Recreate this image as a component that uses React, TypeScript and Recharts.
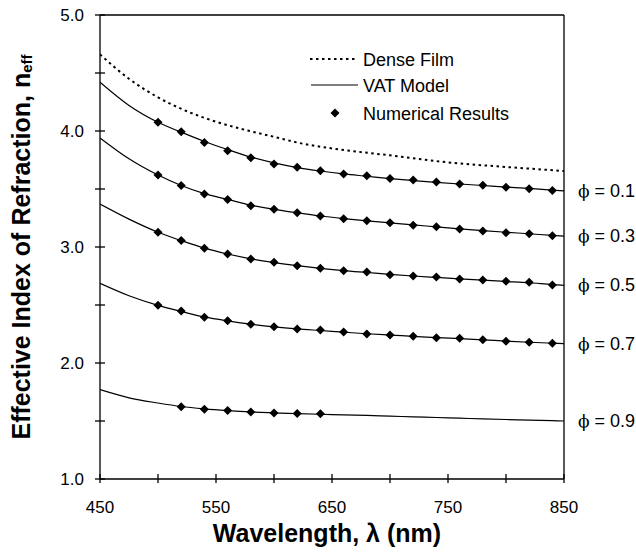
import React from 'react';
import {
  ComposedChart,
  Line,
  Scatter,
  XAxis,
  YAxis,
  ReferenceLine,
  ReferenceDot,
} from 'recharts';

// ---------- data ----------
const curveWavelengths = [450, 475, 500, 520, 540, 560, 580, 600, 620, 640, 660, 680, 700, 720, 740, 760, 780, 800, 820, 840, 850];
const vat01 = [4.42, 4.22, 4.075, 3.99, 3.91, 3.84, 3.775, 3.725, 3.685, 3.655, 3.63, 3.61, 3.59, 3.573, 3.557, 3.543, 3.53, 3.517, 3.505, 3.49, 3.483];
const vat03 = [3.94, 3.76, 3.62, 3.53, 3.46, 3.41, 3.36, 3.325, 3.295, 3.267, 3.245, 3.226, 3.208, 3.19, 3.174, 3.157, 3.141, 3.127, 3.114, 3.1, 3.094];
const vat05 = [3.37, 3.24, 3.127, 3.055, 2.99, 2.94, 2.898, 2.866, 2.839, 2.816, 2.796, 2.78, 2.764, 2.75, 2.738, 2.726, 2.714, 2.703, 2.692, 2.676, 2.67];
const vat07 = [2.687, 2.58, 2.497, 2.445, 2.397, 2.363, 2.335, 2.312, 2.294, 2.28, 2.266, 2.252, 2.241, 2.23, 2.219, 2.21, 2.2, 2.189, 2.179, 2.171, 2.167];
const vat09 = [1.77, 1.70, 1.655, 1.625, 1.605, 1.59, 1.578, 1.57, 1.563, 1.558, 1.553, 1.548, 1.542, 1.536, 1.53, 1.524, 1.518, 1.513, 1.508, 1.503, 1.5];

const denseWavelengths = [450, 475, 500, 525, 550, 575, 600, 625, 650, 700, 750, 800, 850];
const denseFilm = [4.66, 4.45, 4.29, 4.17, 4.08, 4.01, 3.95, 3.89, 3.85, 3.79, 3.73, 3.69, 3.655];

const numWavelengths = [500, 520, 540, 560, 580, 600, 620, 640, 660, 680, 700, 720, 740, 760, 780, 800, 820, 840];
const num01 = [4.075, 3.994, 3.9, 3.83, 3.77, 3.715, 3.687, 3.658, 3.63, 3.615, 3.59, 3.578, 3.56, 3.543, 3.532, 3.515, 3.503, 3.486];
const num03 = [3.62, 3.53, 3.457, 3.41, 3.356, 3.325, 3.296, 3.267, 3.244, 3.227, 3.21, 3.187, 3.175, 3.155, 3.138, 3.123, 3.115, 3.097];
const num05 = [3.127, 3.055, 2.99, 2.94, 2.897, 2.868, 2.839, 2.816, 2.796, 2.784, 2.761, 2.75, 2.741, 2.724, 2.716, 2.704, 2.696, 2.672];
const num07 = [2.497, 2.448, 2.394, 2.365, 2.333, 2.313, 2.293, 2.284, 2.267, 2.25, 2.241, 2.23, 2.218, 2.213, 2.201, 2.187, 2.178, 2.17];
const num09Wavelengths = [520, 540, 560, 580, 600, 620, 640];
const num09 = [1.622, 1.601, 1.59, 1.578, 1.569, 1.565, 1.562];

const phiLabels = ['0.1', '0.3', '0.5', '0.7', '0.9'];
const xTicks = [450, 500, 550, 600, 650, 700, 750, 800, 850];
const xLabelTicks = [450, 550, 650, 750, 850];
const yTicks = [1, 1.5, 2, 2.5, 3, 3.5, 4, 4.5, 5];

const legendLabels = ['Dense Film', 'VAT Model', 'Numerical Results'];

// ---------- build ----------
const toRows = (xs: number[], ys: number[]) => xs.map((x, i) => ({ x, y: ys[i] }));
const vatSeries = [vat01, vat03, vat05, vat07, vat09].map((ys) => toRows(curveWavelengths, ys));
const denseRows = toRows(denseWavelengths, denseFilm);
const numRows = [
  ...toRows(numWavelengths, num01),
  ...toRows(numWavelengths, num03),
  ...toRows(numWavelengths, num05),
  ...toRows(numWavelengths, num07),
  ...toRows(num09Wavelengths, num09),
];

const FONT = '"Liberation Sans", Arial, Helvetica, sans-serif';
const W = 636;
const H = 552;

const Diamond = (props: any) => {
  const { cx, cy } = props;
  if (cx == null || cy == null) return null;
  const r = 4.5;
  return <path d={`M${cx},${cy - r}L${cx + r},${cy}L${cx},${cy + r}L${cx - r},${cy}Z`} fill="#000" />;
};

const YTick = (props: any) => {
  const { x, y, payload } = props;
  const major = Math.abs(payload.value % 1) < 1e-9;
  return (
    <g>
      <line x1={x - 5} x2={x + 5} y1={y} y2={y} stroke="#000" strokeWidth={1.3} />
      {major && (
        <text x={x - 16} y={y} dy={6} textAnchor="end" fontSize={17} fontFamily={FONT} fill="#000">
          {payload.value.toFixed(1)}
        </text>
      )}
    </g>
  );
};

const XTick = (props: any) => {
  const { x, y, payload } = props;
  const show = xLabelTicks.includes(payload.value);
  return (
    <g>
      <line x1={x} x2={x} y1={y - 5} y2={y + 4} stroke="#000" strokeWidth={1.3} />
      {show && (
        <text x={x} y={y} dy={34} textAnchor="middle" fontSize={17} fontFamily={FONT} fill="#000">
          {payload.value}
        </text>
      )}
    </g>
  );
};

const YTitle = (props: any) => {
  const vb = props.viewBox || { x: 0, y: 15, width: 100, height: 464 };
  const cx = vb.x + 30;
  const cy = vb.y + vb.height / 2;
  return (
    <text
      x={cx}
      y={cy}
      transform={`rotate(-90, ${cx}, ${cy})`}
      textAnchor="middle"
      fontSize={25}
      fontWeight="bold"
      fontFamily={FONT}
      fill="#000"
    >
      Effective Index of Refraction, n
      <tspan fontSize={15} dy={2}>eff</tspan>
    </text>
  );
};

const XTitle = (props: any) => {
  const vb = props.viewBox || { x: 100, y: 479, width: 464, height: 73 };
  return (
    <text
      x={vb.x + vb.width / 2 - 5}
      y={vb.y + 63}
      textAnchor="middle"
      fontSize={25}
      fontWeight="bold"
      fontFamily={FONT}
      fill="#000"
    >
      Wavelength, λ (nm)
    </text>
  );
};

const PhiLabel = (text: string) => (props: any) => {
  const vb = props.viewBox || {};
  const x = (vb.x ?? 0) + 14;
  const y = (vb.y ?? 0) + (vb.height ?? 0) / 2;
  return (
    <text x={x} y={y} dy={6} fontSize={18} fontFamily={FONT} fill="#000">
      <tspan fontFamily='"DejaVu Serif", serif' fontSize={17}>ϕ</tspan> = {text}
    </text>
  );
};

const LegendOverlay = () => (
  <svg
    width={260}
    height={100}
    style={{ position: 'absolute', left: 300, top: 40 }}
  >
    <line x1={10} x2={57} y1={19} y2={19} stroke="#000" strokeWidth={2} strokeDasharray="2.5 3.5" />
    <text x={63} y={25.5} fontSize={18} fontFamily={FONT} fill="#000">{legendLabels[0]}</text>
    <line x1={11} x2={58} y1={45} y2={45} stroke="#000" strokeWidth={1.2} />
    <text x={63} y={51.5} fontSize={18} fontFamily={FONT} fill="#000">{legendLabels[1]}</text>
    <path d="M35,68.5L39.5,73L35,77.5L30.5,73Z" fill="#000" />
    <text x={63} y={79.5} fontSize={18} fontFamily={FONT} fill="#000">{legendLabels[2]}</text>
  </svg>
);

export default function App() {
  const ends = [vat01, vat03, vat05, vat07, vat09].map((ys) => ys[ys.length - 1]);
  return (
    <div style={{ position: 'absolute', left: 0, top: 0, width: W, height: H, background: '#fff' }}>
      <ComposedChart width={W} height={H} margin={{ top: 15, right: 72, left: 0, bottom: 0 }}>
        <XAxis
          type="number"
          dataKey="x"
          domain={[450, 850]}
          ticks={xTicks}
          allowDataOverflow
          height={73}
          tickSize={0}
          tickMargin={0}
          tick={<XTick />}
          axisLine={{ stroke: '#000', strokeWidth: 1.3 }}
          label={<XTitle />}
        />
        <YAxis
          type="number"
          dataKey="y"
          domain={[1, 5]}
          ticks={yTicks}
          allowDataOverflow
          width={100}
          tickSize={0}
          tickMargin={0}
          tick={<YTick />}
          axisLine={{ stroke: '#000', strokeWidth: 1.3 }}
          label={<YTitle />}
        />
        <ReferenceLine y={5} stroke="#000" strokeWidth={1.3} />
        <ReferenceLine x={850} stroke="#000" strokeWidth={1.3} />
        <Line
          data={denseRows}
          dataKey="y"
          type="monotone"
          stroke="#000"
          strokeWidth={2}
          strokeDasharray="2.5 3.5"
          dot={false}
          isAnimationActive={false}
          name={legendLabels[0]}
        />
        {vatSeries.map((rows, i) => (
          <Line
            key={i}
            data={rows}
            dataKey="y"
            type="monotone"
            stroke="#000"
            strokeWidth={1.2}
            dot={false}
            isAnimationActive={false}
            name={legendLabels[1]}
          />
        ))}
        <Scatter
          data={numRows}
          dataKey="y"
          shape={<Diamond />}
          isAnimationActive={false}
          name={legendLabels[2]}
        />
        {ends.map((v, i) => (
          <ReferenceDot
            key={'l' + i}
            x={850}
            y={v}
            r={0}
            fill="none"
            stroke="none"
            ifOverflow="visible"
            label={PhiLabel(phiLabels[i])}
          />
        ))}
      </ComposedChart>
      <LegendOverlay />
    </div>
  );
}
